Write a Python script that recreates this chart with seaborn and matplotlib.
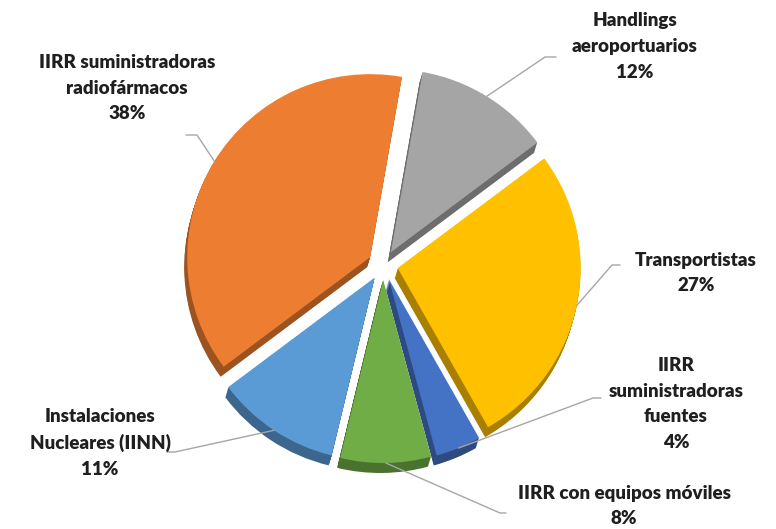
import numpy as np
import matplotlib
matplotlib.use("Agg")
import matplotlib.pyplot as plt
import seaborn as sns
from matplotlib.colors import to_rgb

# Share of entities by type (%), clockwise from the top
categories = [
    "Handlings\naeroportuarios",
    "Transportistas",
    "IIRR\nsuministradoras\nfuentes",
    "IIRR con equipos móviles",
    "Instalaciones\nNucleares (IINN)",
    "IIRR suministradoras\nradiofármacos",
]
shares = [12, 27, 4, 8, 11, 38]
colors = ["#A5A5A5", "#FFC000", "#4472C4", "#70AD47", "#5B9BD5", "#ED7D31"]

sns.set_theme(style="white")
plt.rcParams["font.family"] = ["Lato", "DejaVu Sans"]

W, H = 776, 529
fig = plt.figure(figsize=(W / 100, H / 100), dpi=100)
ax = fig.add_axes([0, 0, 1, 1])

cx, cy = 383, H - 265
R = 183
explode = [15] * len(shares)
depth = (-3.0, -10.0)
common = dict(radius=R, startangle=80, counterclock=False, explode=explode,
              wedgeprops=dict(linewidth=0), frame=True)

# extruded side of the 3D pie: stacked darker copies
shade = [tuple(c * 0.66 for c in to_rgb(col)) for col in colors]
for k in np.linspace(1, 0.1, 10):
    ax.pie(shares, center=(cx + depth[0] * k, cy + depth[1] * k), colors=shade, **common)

wedges, _ = ax.pie(shares, center=(cx, cy), colors=colors, **common)

# label blocks: (center x, center y) in pixel rows from the top, and leader elbows
label_pos = [(635, 46.5), (696, 273), (676, 404), (624, 506), (100, 443), (127, 88)]
elbows = [
    [(545, 57), (556, 57)],
    [(612, 265), (620, 265)],
    [(593, 398), (601, 398)],
    [(500, 513), (506, 513)],
    [(175, 452), (167, 452)],
    [(197, 135), (186, 135)],
]

for w, name, val, (lx, ly), el in zip(wedges, categories, shares, label_pos, elbows):
    tm = np.deg2rad((w.theta1 + w.theta2) / 2)
    x0 = w.center[0] + w.r * np.cos(tm)
    y0 = w.center[1] + w.r * np.sin(tm)
    xs = [x0] + [p[0] for p in el]
    ys = [y0] + [H - p[1] for p in el]
    ax.plot(xs, ys, color="#A6A6A6", lw=1.0, zorder=1)
    ax.text(lx, H - ly, f"{name}\n{val}%", ha="center", va="center",
            multialignment="center", fontsize=13.5, fontweight="heavy",
            color="#1F1F1F", linespacing=1.62)

ax.set_xlim(0, W)
ax.set_ylim(0, H)
ax.set_aspect("equal")
ax.axis("off")

fig.savefig("out.png", dpi=100, facecolor="white")
